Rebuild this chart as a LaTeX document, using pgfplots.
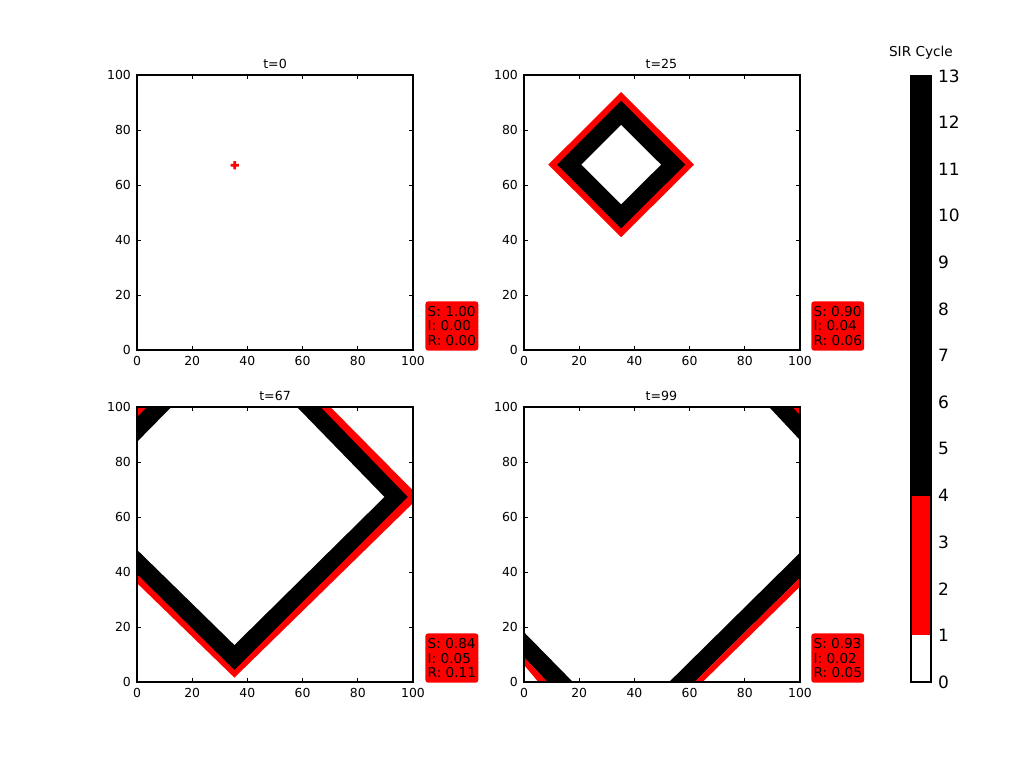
\documentclass[border=0pt]{standalone}
\usepackage{fontspec}
\setmainfont{DejaVu Sans}
\usepackage{pgfplots}
\pgfplotsset{compat=1.18}
\pgfplotsset{
  panel/.style={
    scale only axis, width=157.84pt, height=157.27pt,
    anchor=south west,
    xmin=0, xmax=100, ymin=0, ymax=100,
    xtick={0,20,...,100}, ytick={0,20,...,100},
    tick align=inside, major tick length=2.3pt,
    tick style={black, line width=0.5pt},
    axis line style={line width=0.6pt},
    ticklabel style={font=\fontsize{7.1}{8}\selectfont},
    /pgf/number format/assume math mode=true,
    axis on top,
  },
}
\tikzset{
  box/.style={anchor=south west, fill=red, rounded corners=1.5pt, inner xsep=1.3pt, inner ysep=2.8pt,
    align=left, font=\fontsize{7.8}{8.3}\selectfont},
  ttl/.style={font=\fontsize{7.2}{8}\selectfont},
}
\begin{document}
\begin{tikzpicture}
\path[use as bounding box] (0,0) rectangle (578.2pt,433.5pt);

% t=0
\begin{axis}[panel, at={(78.35pt,233.34pt)}]
\addplot[fill=red, draw=none] coordinates {(34.9,65.7) (35.9,65.7) (35.9,66.7) (36.9,66.7) (36.9,67.7) (35.9,67.7) (35.9,68.7) (34.9,68.7) (34.9,67.7) (33.9,67.7) (33.9,66.7) (34.9,66.7)} -- cycle;
\end{axis}

% t=25
\begin{axis}[panel, at={(299.68pt,233.34pt)}]
\addplot[fill=red, draw=none] coordinates {(35.2,93.8) (61.6,67.4) (35.2,41.0) (8.8,67.4)} -- cycle;
\addplot[fill=black, draw=none] coordinates {(35.2,90.6) (58.4,67.4) (35.2,44.2) (12.0,67.4)} -- cycle;
\addplot[fill=white, draw=none] coordinates {(35.2,81.8) (49.6,67.4) (35.2,53.0) (20.8,67.4)} -- cycle;
\end{axis}

% t=67
\begin{axis}[panel, at={(78.35pt,43.46pt)}]
\addplot[fill=red, draw=none] coordinates {(35.3,135.3) (102.3,67.3) (35.3,1.6) (-32.2,67.3)} -- cycle;
\addplot[fill=black, draw=none] coordinates {(35.3,132.3) (98.1,67.3) (35.3,4.4) (-28.4,67.3)} -- cycle;
\addplot[fill=white, draw=none] coordinates {(35.3,123.3) (89.6,67.3) (35.3,13.5) (-19.5,67.3)} -- cycle;
\end{axis}

% t=99
\begin{axis}[panel, at={(299.68pt,43.46pt)}]
\addplot[fill=black, draw=none] coordinates {(0,9.0) (0,18.1) (17.7,0) (8.5,0)} -- cycle;
\addplot[fill=red, draw=none] coordinates {(0,6.2) (0,9.0) (8.5,0) (5.2,0)} -- cycle;
\addplot[fill=black, draw=none] coordinates {(52.6,0) (61.8,0) (100,37.9) (100,47.0)} -- cycle;
\addplot[fill=red, draw=none] coordinates {(61.8,0) (64.7,0) (100,34.7) (100,37.9)} -- cycle;
\addplot[fill=black, draw=none] coordinates {(88.8,100) (100,100) (100,88)} -- cycle;
\addplot[fill=red, draw=none] coordinates {(97.3,100) (100,100) (100,97.1)} -- cycle;
\end{axis}

% colorbar
\begin{axis}[at={(521.0pt,43.46pt)}, anchor=south west, scale only axis,
  width=11.44pt, height=346.6pt, xmin=0, xmax=1, ymin=0, ymax=13,
  xtick=\empty, ytick={0,1,...,13}, yticklabel pos=right,
  major tick length=0pt, axis line style={line width=0.6pt},
  yticklabel style={font=\fontsize{9.7}{10}\selectfont, xshift=0.5pt},
  /pgf/number format/assume math mode=true, axis on top]
\addplot[fill=white, draw=none] coordinates {(0,0) (1,0) (1,1) (0,1)} -- cycle;
\addplot[fill=red, draw=none] coordinates {(0,1) (1,1) (1,4) (0,4)} -- cycle;
\addplot[fill=black, draw=none] coordinates {(0,4) (1,4) (1,13) (0,13)} -- cycle;
\end{axis}

% titles
\node[ttl] at (157.3pt,396.9pt) {t=0};
\node[ttl] at (378.3pt,396.9pt) {t=25};
\node[ttl] at (157.3pt,207.0pt) {t=67};
\node[ttl] at (378.3pt,207.0pt) {t=99};
\node[font=\fontsize{7.8}{8}\selectfont] at (526.7pt,403.2pt) {SIR Cycle};

% stat boxes
\node[box] at (243.1pt,232.8pt) {S: 1.00\\I: 0.00\\R: 0.00};
\node[box] at (463.8pt,232.8pt) {S: 0.90\\I: 0.04\\R: 0.06};
\node[box] at (243.1pt,42.9pt) {S: 0.84\\I: 0.05\\R: 0.11};
\node[box] at (463.8pt,42.9pt) {S: 0.93\\I: 0.02\\R: 0.05};
\end{tikzpicture}
\end{document}
